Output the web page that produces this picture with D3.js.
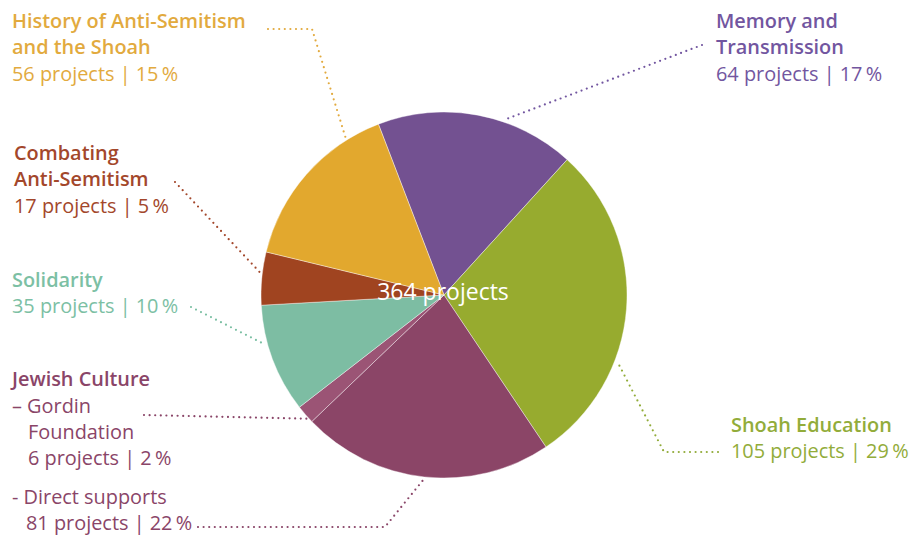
<!DOCTYPE html>
<html>
<head>
<meta charset="utf-8">
<script src="https://cdn.jsdelivr.net/npm/d3@7"></script>
<style>
  body { margin: 0; background: #fff; }
  svg { display: block; font-family: 'Open Sans', Lato, sans-serif; }
</style>
</head>
<body>
<div id="chart"></div>
<script>
// slices, clockwise from the top
const categories = ['Memory and Transmission', 'Shoah Education', 'Jewish Culture - Direct supports',
  'Jewish Culture - Gordin Foundation', 'Solidarity', 'Combating Anti-Semitism', 'History of Anti-Semitism and the Shoah']
const projects = [64, 105, 81, 6, 35, 17, 56]
const percents = [17, 29, 22, 2, 10, 5, 15]
const titleLines = [
  ['Memory and', 'Transmission'],
  ['Shoah Education'],
  ['- Direct supports'],
  ['\u2013 Gordin', 'Foundation'],
  ['Solidarity'],
  ['Combating', 'Anti-Semitism'],
  ['History of Anti-Semitism', 'and the Shoah']
]
const groupTitle = 'Jewish Culture'
const sliceColors = ['#735191', '#97ab2f', '#8b4567', '#9b5475', '#7dbda3', '#a04420', '#e2a82e']
const textColors = ['#7256a0', '#92ac3a', '#8a4568', '#8a4568', '#7cc0a4', '#a3472b', '#e2aa3e']

const W = 913, H = 535
const cx = 444, cy = 295, R = 183
const lh = 26.3

// label layout: first-line x, first baseline, x of following lines, bold title,
// leader points on the label side, position of the leader end inside the slice (0..1)
const layout = [
  { x: 716, y: 28, x2: 716, bold: true, pts: [[702, 45]], t: 0.63 },
  { x: 731, y: 432, x2: 731, bold: true, pts: [[718, 452], [664, 452]], t: 0.66 },
  { x: 12, y: 504, x2: 26, bold: false, pts: [[198, 527], [385, 527]], t: 0.5 },
  { x: 12, y: 412.5, x2: 28, bold: false, pts: [[144, 415]], t: 0.3 },
  { x: 12, y: 286.5, x2: 12, bold: true, pts: [[191, 307]], t: 0.64 },
  { x: 14, y: 160, x2: 14, bold: true, pts: [[175, 182]], t: 0.6 },
  { x: 12, y: 28, x2: 12, bold: true, pts: [[268, 29], [312, 29]], t: 0.8 }
]

const total = d3.sum(projects)
const data = categories.map((c, i) => ({ name: c, value: projects[i], pct: percents[i], i }))

const svg = d3.select('#chart').append('svg').attr('width', W).attr('height', H)

const start = -21 * Math.PI / 180
const pie = d3.pie().value(d => d.value).sort(null).startAngle(start).endAngle(start + 2 * Math.PI)
const arcs = pie(data)
const arc = d3.arc().innerRadius(0).outerRadius(R)

// leaders
const line = d3.line()
svg.append('g').selectAll('path').data(arcs).enter().append('path')
  .attr('d', d => {
    const lo = layout[d.index]
    const a = d.startAngle + (d.endAngle - d.startAngle) * lo.t
    const end = [cx + Math.sin(a) * (R + 2), cy - Math.cos(a) * (R + 2)]
    return line(lo.pts.concat([end]))
  })
  .attr('fill', 'none')
  .attr('stroke', d => textColors[d.index])
  .attr('stroke-width', 2.2)
  .attr('stroke-linecap', 'round')
  .attr('stroke-dasharray', '0 5.6')

// pie
const g = svg.append('g').attr('transform', `translate(${cx},${cy})`)
g.selectAll('path').data(arcs).enter().append('path')
  .attr('d', arc)
  .attr('fill', d => sliceColors[d.index])
  .attr('stroke', '#fff')
  .attr('stroke-width', 0.4)

g.append('text').text(`${total} projects`)
  .attr('x', -1).attr('y', 5)
  .attr('text-anchor', 'middle')
  .attr('fill', '#fff')
  .attr('font-size', 23)

// labels
const labels = svg.append('g').attr('font-size', 19.9)
data.forEach((d, i) => {
  const lo = layout[i]
  const lines = titleLines[i]
  lines.forEach((t, k) => {
    labels.append('text').text(t)
      .attr('x', k === 0 ? lo.x : lo.x2)
      .attr('y', lo.y + k * lh)
      .attr('fill', textColors[i])
      .attr('font-weight', lo.bold ? 600 : 400)
  })
  labels.append('text').text(`${d.value} projects | ${d.pct}\u2009%`)
    .attr('x', lo.x2)
    .attr('y', lo.y + lines.length * lh)
    .attr('fill', textColors[i])
})
labels.append('text').text(groupTitle)
  .attr('x', 12).attr('y', 386)
  .attr('fill', textColors[3])
  .attr('font-weight', 600)
</script>
</body>
</html>
